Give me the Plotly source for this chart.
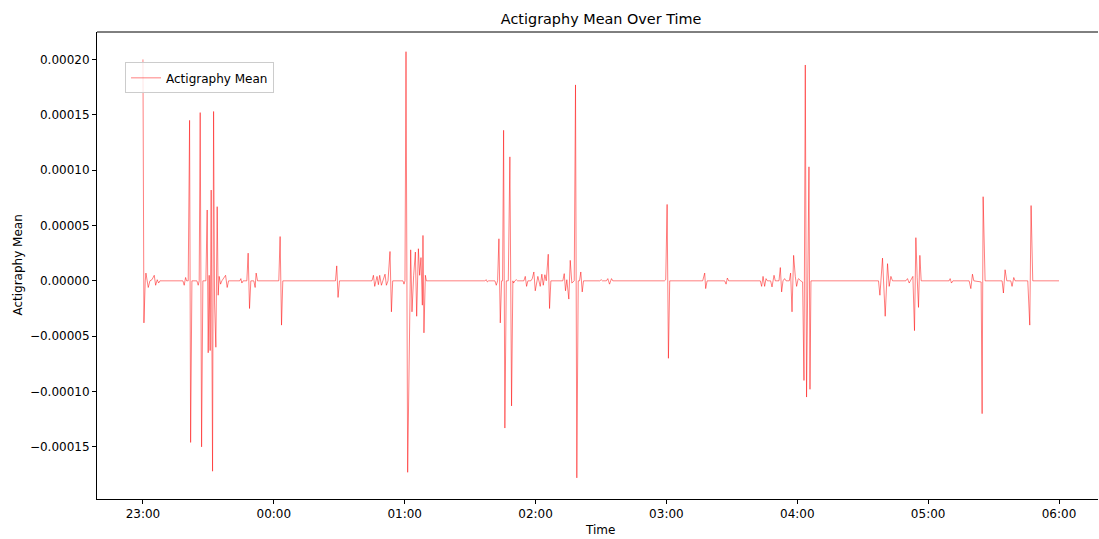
import plotly.graph_objects as go
from datetime import datetime, timedelta

# Time of each sample (clock time, night of day 1 -> morning of day 2)
times = [
    "23:00:00", "23:00:27", "23:01:03", "23:01:22", "23:02:26", "23:03:12", "23:04:07", "23:05:11",
    "23:05:49", "23:06:33", "23:07:11", "23:07:47",
    "23:18:19", "23:18:55", "23:19:33", "23:20:01", "23:20:45", "23:21:23", "23:21:51", "23:22:27",
    "23:24:44", "23:25:20", "23:25:47", "23:26:15", "23:26:53", "23:27:29",
    "23:28:51", "23:29:27", "23:29:55", "23:30:22", "23:30:49", "23:31:17", "23:31:55", "23:32:23",
    "23:32:50", "23:33:26", "23:34:02", "23:34:29", "23:34:57", "23:35:35", "23:36:11",
    "23:37:53", "23:38:37", "23:39:15",
    "23:44:26", "23:44:53", "23:45:21", "23:45:56",
    "23:47:38", "23:48:14", "23:48:52", "23:49:28",
    "23:50:50", "23:51:26", "23:51:54", "23:52:32",
    "00:02:17", "00:02:53", "00:03:32", "00:04:07",
    "00:28:16", "00:28:51", "00:29:27", "00:30:06",
    "00:45:01", "00:45:40", "00:46:16", "00:46:51", "00:47:19", "00:47:57", "00:48:33", "00:49:20",
    "00:50:04", "00:50:59", "00:51:37", "00:52:21", "00:53:16", "00:53:55", "00:54:30",
    "00:59:13", "00:59:41", "01:00:08", "01:00:36", "01:01:22", "01:02:45", "01:03:21", "01:04:07",
    "01:04:54", "01:05:30", "01:06:17", "01:06:52", "01:07:28", "01:08:06", "01:08:23", "01:08:50",
    "01:09:29", "01:09:56",
    "01:36:47", "01:37:25", "01:37:53", "01:38:28",
    "01:41:22", "01:42:00", "01:42:36", "01:43:12", "01:43:50", "01:44:26", "01:44:53", "01:45:21",
    "01:45:56", "01:46:35", "01:47:30", "01:48:14", "01:49:00", "01:49:36", "01:49:55", "01:50:31",
    "01:51:10", "01:51:45",
    "01:54:39", "01:55:17", "01:55:53", "01:56:29",
    "01:57:51", "01:58:29", "01:59:13", "01:59:52", "02:00:28", "02:01:03", "02:02:09", "02:02:53",
    "02:03:32", "02:04:16", "02:04:54", "02:05:49", "02:06:25", "02:07:01",
    "02:12:30", "02:13:09", "02:13:44", "02:14:20", "02:15:15", "02:15:54", "02:16:38", "02:17:44",
    "02:18:19", "02:18:55", "02:19:34", "02:20:09", "02:20:45", "02:21:24", "02:21:59",
    "02:29:27", "02:30:06", "02:30:41",
    "02:32:31", "02:33:07", "02:33:54", "02:34:49", "02:35:25",
    "02:59:05", "02:59:41", "03:00:19", "03:00:55", "03:01:31",
    "03:16:38", "03:17:33", "03:18:00", "03:18:39",
    "03:26:42", "03:27:21", "03:27:56", "03:28:32",
    "03:43:03", "03:43:39", "03:44:18", "03:45:01", "03:45:40", "03:46:16",
    "03:47:46", "03:48:25", "03:49:20", "03:49:55",
    "03:51:37", "03:52:13", "03:52:49", "03:53:27", "03:54:11", "03:54:50",
    "03:56:20", "03:56:56", "03:57:35", "03:58:19", "03:59:05", "03:59:41", "04:00:19", "04:00:36",
    "04:01:31", "04:02:26", "04:03:04", "04:03:40", "04:04:15", "04:05:21", "04:05:49", "04:06:16",
    "04:37:14", "04:37:53", "04:39:04", "04:40:18", "04:41:22", "04:42:08", "04:42:55", "04:43:39",
    "04:49:47", "04:50:31", "04:51:18", "04:51:59", "04:53:00", "04:53:44", "04:54:22", "04:54:58",
    "04:55:34", "04:56:12", "04:56:48",
    "05:09:37", "05:10:05", "05:10:41", "05:11:19",
    "05:18:47", "05:19:34", "05:20:18", "05:20:56",
    "05:24:17", "05:24:44", "05:25:12", "05:26:06",
    "05:33:54", "05:34:30", "05:35:16", "05:36:03",
    "05:37:53", "05:38:28", "05:39:15", "05:39:51",
    "05:45:40", "05:46:35", "05:47:11", "05:47:57",
    "06:00:00",
]

# Actigraphy mean, in units of 1e-5
actigraphy_mean_e5 = [
    20.0, -3.8, 0.0, 0.7, -0.6, 0.0, 0.1, 0.5,
    -0.4, 0.1, -0.2, 0.0,
    0.0, -0.4, 0.3, 0.0, 0.0, 14.5, -14.6, 0.0,
    0.0, -0.4, 0.0, 15.2, -15.0, 0.0,
    0.0, 6.4, -6.5, 0.5, -6.3, 8.2, -17.2, 15.3,
    -2.0, -6.0, 6.7, -1.3, 0.4, -0.3, 0.0,
    0.5, -0.6, 0.0,
    0.0, 0.2, -0.2, 0.0,
    0.0, 2.5, -2.5, 0.0,
    0.0, -0.6, 0.7, 0.0,
    0.0, 4.0, -4.0, 0.0,
    0.0, 1.35, -1.5, 0.0,
    0.0, 0.5, -0.5, 0.1, 0.4, -0.35, 0.5, -0.4,
    0.0, 0.6, -0.4, 0.0, 2.65, -2.8, 0.0,
    0.0, -0.3, 0.0, 20.7, -17.3, 2.8, -2.8, 0.5,
    2.6, -3.2, 2.9, 0.5, 2.1, -2.2, 4.1, -4.7,
    0.5, 0.0,
    0.0, 0.1, -0.1, 0.0,
    0.0, -0.4, 0.0, 3.8, -3.8, 0.0, 0.0, 13.6,
    -13.3, 0.0, 0.0, 11.2, -11.3, 0.0, -0.2, 0.0,
    0.1, 0.0,
    0.0, 0.4, -0.5, 0.0,
    0.0, 0.2, 0.8, -0.9, 0.0, 0.4, -0.5, 0.6,
    -0.4, 0.55, 0.0, 2.4, -2.5, 0.0,
    0.0, 0.65, -0.9, 0.1, -1.65, 1.85, -0.2, 0.0,
    17.7, -17.8, 0.0, 0.0, 0.8, -1.0, 0.0,
    0.0, 0.1, 0.0,
    0.0, 0.2, -0.3, 0.2, 0.0,
    0.0, 0.1, 6.9, -7.0, 0.0,
    0.0, 0.7, -0.7, 0.0,
    0.0, -0.3, 0.25, 0.0,
    0.0, -0.5, 0.4, -0.5, 0.2, 0.0,
    0.0, -0.55, 0.5, 0.0,
    0.0, 1.2, -1.0, 0.0, 0.2, 0.0,
    0.0, 0.7, -2.8, 2.3, 0.4, -0.5, 0.1, 0.2,
    0.0, -0.1, -9.0, 19.5, -10.5, 10.3, -9.8, 0.0,
    0.0, -1.3, 2.05, -3.2, 1.55, -0.5, 0.4, 0.0,
    0.0, 0.2, -0.2, 0.0, 0.4, -4.5, 3.9, 0.3,
    -2.4, 2.3, 0.0,
    0.0, 0.2, -0.2, 0.0,
    0.0, -0.7, 0.6, 0.0,
    -0.1, -12.0, 7.6, 0.0,
    0.0, -1.1, 1.0, 0.0,
    0.0, -0.5, 0.3, 0.0,
    0.0, -4.0, 6.8, 0.0,
    0.0,
]

BASE_DAY = datetime(2024, 1, 1)


def to_dt(hms):
    h, m, s = (int(p) for p in hms.split(":"))
    day = 0 if h >= 12 else 1
    return BASE_DAY + timedelta(days=day, hours=h, minutes=m, seconds=s)


x_vals = [to_dt(t) for t in times]
y_vals = [v * 1e-5 for v in actigraphy_mean_e5]

FONT = "DejaVu Sans, Verdana, sans-serif"
FS = 12

fig = go.Figure()
fig.add_trace(go.Scatter(
    x=x_vals, y=y_vals, mode="lines", name="Actigraphy Mean",
    line=dict(color="rgba(255,0,0,0.5)", width=1),
    showlegend=True,
))

fig.update_layout(
    width=1099, height=539,
    margin=dict(l=97, r=1, t=32, b=40),
    paper_bgcolor="white", plot_bgcolor="white",
    font=dict(family=FONT, size=FS, color="black"),
    title=dict(text="Actigraphy Mean Over Time", x=0.547, xref="container", xanchor="center",
               y=1 - 19 / 539, yref="container", yanchor="middle",
               font=dict(family=FONT, size=14.4, color="black")),
    showlegend=True,
    legend=dict(x=0.028, y=0.935, xanchor="left", yanchor="top",
                bgcolor="rgba(255,255,255,0.8)", bordercolor="#cccccc", borderwidth=1,
                font=dict(family=FONT, size=FS, color="black")),
    xaxis=dict(
        type="date",
        range=[to_dt("22:38:56"), to_dt("06:17:52")],
        tickmode="array",
        tickvals=[to_dt(t) for t in ["23:00:00", "00:00:00", "01:00:00", "02:00:00",
                                      "03:00:00", "04:00:00", "05:00:00", "06:00:00"]],
        ticktext=["23:00", "00:00", "01:00", "02:00", "03:00", "04:00", "05:00", "06:00"],
        showgrid=False, zeroline=False,
        showline=True, linecolor="black", linewidth=1, mirror=False,
        ticks="outside", ticklen=4, tickcolor="black", tickwidth=1,
        tickfont=dict(family=FONT, size=FS, color="black"),
    ),
    yaxis=dict(
        range=[-1.971e-4, 2.248e-4],
        tickmode="array",
        tickvals=[-1.5e-4, -1e-4, -5e-5, 0, 5e-5, 1e-4, 1.5e-4, 2e-4],
        tickformat=".5f",
        showgrid=False, zeroline=False,
        showline=True, linecolor="black", linewidth=1, mirror=False,
        ticks="outside", ticklen=4, tickcolor="black", tickwidth=1,
        tickfont=dict(family=FONT, size=FS, color="black"),
    ),
    shapes=[dict(type="line", xref="paper", yref="paper", x0=0, x1=1, y0=1, y1=1,
                 line=dict(color="black", width=1))],
    annotations=[
        dict(text="Time", xref="paper", yref="paper", x=(601 - 97) / 1002, y=-31 / 467,
             xanchor="center", yanchor="middle", showarrow=False,
             font=dict(family=FONT, size=FS, color="black")),
        dict(text="Actigraphy Mean", xref="paper", yref="paper", x=-80 / 1002, y=0.5,
             xanchor="center", yanchor="middle", textangle=-90, showarrow=False,
             font=dict(family=FONT, size=FS, color="black")),
    ],
)

fig.write_html("out.html")
